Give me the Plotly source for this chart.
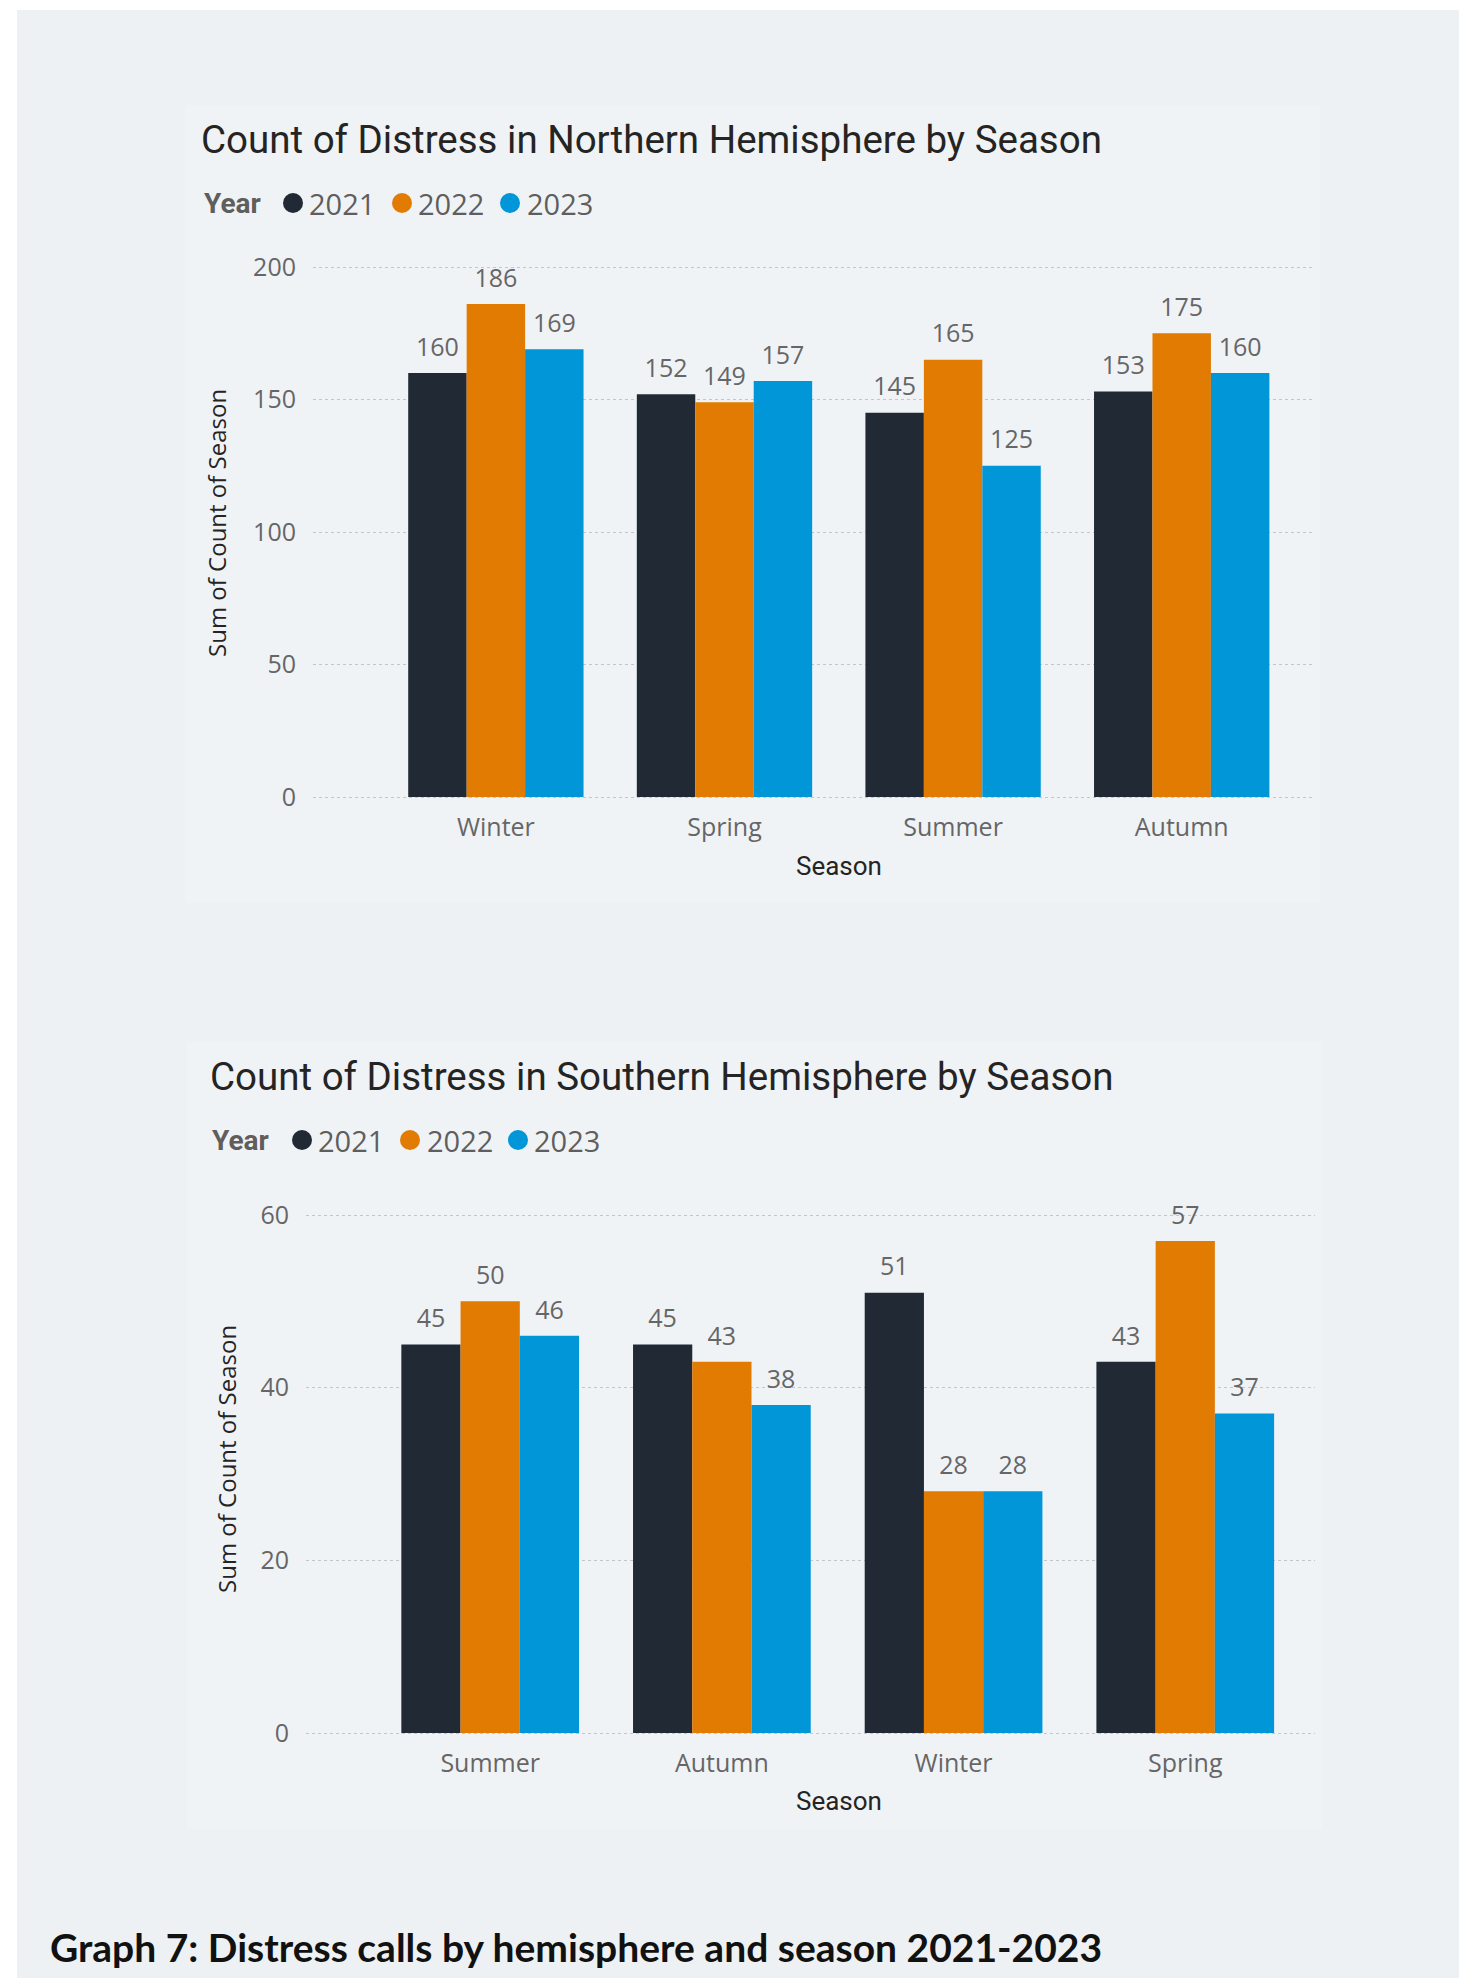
import plotly.graph_objects as go

W, H = 1459, 1978

years = ["2021", "2022", "2023"]
colors = ["#212A34", "#E17B02", "#0096D8"]

north_seasons = ["Winter", "Spring", "Summer", "Autumn"]
north_2021 = [160, 152, 145, 153]
north_2022 = [186, 149, 165, 175]
north_2023 = [169, 157, 125, 160]

south_seasons = ["Summer", "Autumn", "Winter", "Spring"]
south_2021 = [45, 45, 51, 43]
south_2022 = [50, 43, 28, 57]
south_2023 = [46, 38, 28, 37]

north_tick_vals = [0, 50, 100, 150, 200]
south_tick_vals = [0, 20, 40, 60]

title_north = "Count of Distress in Northern Hemisphere by Season"
title_south = "Count of Distress in Southern Hemisphere by Season"
y_title = "Sum of Count of Season"
x_title = "Season"
caption = "Graph 7: Distress calls by hemisphere and season 2021-2023"


def px(x):
    return x / W


def py(y):
    return 1 - y / H


LABEL_FONT = dict(family="Open Sans", size=25, color="#666666")

fig = go.Figure()

for xa, ya, cats, series in [("x", "y", north_seasons, [north_2021, north_2022, north_2023]),
                             ("x2", "y2", south_seasons, [south_2021, south_2022, south_2023])]:
    for yr, col, vals in zip(years, colors, series):
        fig.add_trace(go.Bar(
            x=cats, y=vals, name=yr, marker_color=col, marker_line_width=0,
            offsetgroup=yr, showlegend=False, hoverinfo="skip",
            xaxis=xa, yaxis=ya))
    # value labels, grouped like the bars, sitting a little above each bar
    for yr, vals in zip(years, series):
        fig.add_trace(go.Scatter(
            x=cats, y=vals, mode="markers+text", text=[str(v) for v in vals],
            textposition="top center", textfont=LABEL_FONT,
            marker=dict(size=16, opacity=0), offsetgroup=yr,
            cliponaxis=False, showlegend=False, hoverinfo="skip",
            xaxis=xa, yaxis=ya))

axis_common = dict(showline=False, ticks="", zeroline=False, automargin=False)
tick_font = dict(family="Open Sans", size=25, color="#666666")

n_pad = 1.0
s_pad = 0.3
n_ppu = (797 - 267) / 200
s_ppu = (1733 - 1215) / 60

fig.update_layout(
    width=W, height=H,
    margin=dict(l=0, r=0, t=0, b=0, pad=0, autoexpand=False),
    paper_bgcolor="white",
    plot_bgcolor="rgba(0,0,0,0)",
    showlegend=False,
    barmode="group", bargap=0.233, bargroupgap=0,
    scattermode="group", scattergap=0.233,
    xaxis=dict(domain=[px(313), px(1312)], anchor="y", range=[-0.80, 3.57],
               categoryorder="array", categoryarray=north_seasons,
               showgrid=False, tickfont=tick_font, ticklabelstandoff=10,
               **axis_common),
    yaxis=dict(domain=[py(797 + n_pad * n_ppu), py(267 - n_pad * n_ppu)], anchor="x",
               range=[-n_pad, 200 + n_pad],
               tickvals=north_tick_vals, showgrid=True, griddash="dot",
               gridcolor="#c4c7ca", gridwidth=1, tickfont=tick_font,
               ticklabelstandoff=16, **axis_common),
    xaxis2=dict(domain=[px(306), px(1315)], anchor="y2", range=[-0.795, 3.56],
                categoryorder="array", categoryarray=south_seasons,
                showgrid=False, tickfont=tick_font, ticklabelstandoff=10,
                **axis_common),
    yaxis2=dict(domain=[py(1733 + s_pad * s_ppu), py(1215 - s_pad * s_ppu)], anchor="x2",
                range=[-s_pad, 60 + s_pad],
                tickvals=south_tick_vals, showgrid=True, griddash="dot",
                gridcolor="#c4c7ca", gridwidth=1, tickfont=tick_font,
                ticklabelstandoff=16, **axis_common),
)

shapes = [
    dict(type="rect", xref="paper", yref="paper", x0=px(17), x1=1, y0=0, y1=py(10),
         fillcolor="#edf1f4", line_width=0, layer="below"),
    dict(type="rect", xref="paper", yref="paper", x0=px(185), x1=px(1320), y0=py(903), y1=py(105),
         fillcolor="#f0f3f6", line_width=0, layer="below"),
    dict(type="rect", xref="paper", yref="paper", x0=px(187), x1=px(1322), y0=py(1829), y1=py(1042),
         fillcolor="#f0f3f6", line_width=0, layer="below"),
]

annotations = []


def add_text(x, y, text, size, color, family, xanchor="left", angle=0):
    annotations.append(dict(x=px(x), y=py(y), xref="paper", yref="paper", text=text,
                            showarrow=False, xanchor=xanchor, yanchor="middle",
                            textangle=angle,
                            font=dict(family=family, size=size, color=color)))


def add_legend(x_year, y, dot_centers, text_lefts):
    add_text(x_year, y, "<b>Year</b>", 28, "#605e5c", "Roboto")
    for cx, tx, col, yr in zip(dot_centers, text_lefts, colors, years):
        shapes.append(dict(type="circle", xref="paper", yref="paper",
                           x0=px(cx - 10), x1=px(cx + 10), y0=py(y + 10), y1=py(y - 10),
                           fillcolor=col, line_width=0))
        add_text(tx - 2, y, yr, 29, "#605e5c", "Open Sans")


add_text(199, 139, title_north, 38.5, "#252423", "Roboto")
add_legend(202, 203, [293, 402, 510], [309, 418, 527])
add_text(217, 523, y_title, 24, "#252423", "Open Sans", xanchor="center", angle=-90)
add_text(839, 866, x_title, 26, "#252423", "Roboto", xanchor="center")

add_text(208, 1076, title_south, 38.5, "#252423", "Roboto")
add_legend(210, 1140, [302, 410, 518], [318, 427, 534])
add_text(226, 1459, y_title, 24, "#252423", "Open Sans", xanchor="center", angle=-90)
add_text(839, 1801, x_title, 26, "#252423", "Roboto", xanchor="center")

add_text(48, 1947, "<b>" + caption + "</b>", 39, "#111111", "Lato")

fig.update_layout(shapes=shapes, annotations=annotations)

fig.write_html("out.html")
